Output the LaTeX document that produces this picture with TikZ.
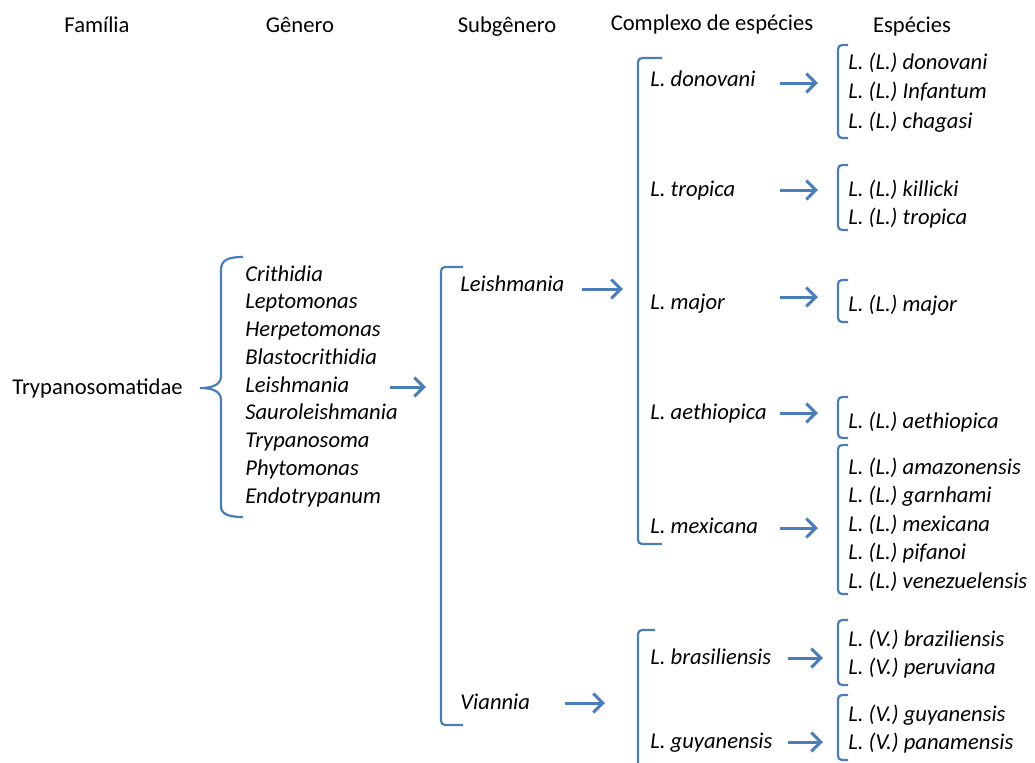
\documentclass[tikz,border=0pt]{standalone}
\usepackage{fontspec}
\setmainfont{Carlito}
\usetikzlibrary{arrows.meta}
\definecolor{linkblue}{RGB}{74,126,187}
\tikzset{
  hdr/.style={inner sep=0pt, text height=8pt, text depth=1.8pt},
  lbl/.style={anchor=west, inner sep=0pt, text height=8pt, text depth=1.8pt},
  ital/.style={lbl, font=\itshape},
  arw/.style={draw=linkblue, line width=1.5pt, -{Straight Barb[length=4.8pt,width=9.5pt]}},
  brk/.style={draw=linkblue, line width=1.1pt, rounded corners=2pt}
}
\begin{document}
\fontsize{11.3}{13.8}\selectfont
\begin{tikzpicture}[x=0.5pt,y=-0.5pt]
\useasboundingbox (0,0) rectangle (1035,762);
% column heads
\node[hdr] (hFam) at (97,26) {Família};
\node[hdr] (hGen) at (300,26) {Gênero};
\node[hdr] (hSub) at (507,26) {Subgênero};
\node[hdr] (hCpx) at (712,24) {Complexo de espécies};
\node[hdr] (hSpp) at (912,26) {Espécies};
% family
\node[lbl] (fam) at (12,388) {Trypanosomatidae};
\draw[linkblue, line width=1.1pt] (243,257) .. controls (228,257) and (221,260) .. (221,270)
  -- (221,376) .. controls (221,385) and (212,388) .. (200,388)
  .. controls (212,388) and (221,391) .. (221,400)
  -- (221,506) .. controls (221,514) and (228,517) .. (243,517);
% genera
\foreach \g [count=\i] in {Crithidia,Leptomonas,Herpetomonas,Blastocrithidia,Leishmania,Sauroleishmania,Trypanosoma,Phytomonas,Endotrypanum}
  \node[ital] (gen\i) at (245,{275+27.75*(\i-1)}) {\g};
\coordinate (aGen1) at (390,387);
\coordinate (aGen2) at (426,387);
\draw[arw] (aGen1) -- (aGen2);
% subgenera
\draw[brk] (463,267) -- (441,267) -- (441,725) -- (463,725);
\node[ital] (subL) at (460,285) {Leishmania};
\node[ital] (subV) at (460,703) {Viannia};
\coordinate (aSubL1) at (582,289);
\coordinate (aSubL2) at (623,289);
\draw[arw] (aSubL1) -- (aSubL2);
\coordinate (aSubV1) at (565,703);
\coordinate (aSubV2) at (605,703);
\draw[arw] (aSubV1) -- (aSubV2);
% species complexes
\draw[brk] (662,58) -- (638,58) -- (638,544) -- (662,544);
\draw[brk] (655,630) -- (638,630) -- (638,770);
\node[ital] (cDon) at (650,80) {L. donovani};
\node[ital] (cTro) at (650,190) {L. tropica};
\node[ital] (cMaj) at (650,303) {L. major};
\node[ital] (cAet) at (650,413) {L. aethiopica};
\node[ital] (cMex) at (650,527) {L. mexicana};
\node[ital] (cBra) at (650,658) {L. brasiliensis};
\node[ital] (cGuy) at (650,742) {L. guyanensis};
\coordinate (aDon1) at (780,83);  \coordinate (aDon2) at (818,83);
\coordinate (aTro1) at (780,190); \coordinate (aTro2) at (818,190);
\coordinate (aMaj1) at (780,297); \coordinate (aMaj2) at (818,297);
\coordinate (aAet1) at (780,413); \coordinate (aAet2) at (818,413);
\coordinate (aMex1) at (780,528); \coordinate (aMex2) at (818,528);
\coordinate (aBra1) at (788,658); \coordinate (aBra2) at (823,658);
\coordinate (aGuy1) at (788,742); \coordinate (aGuy2) at (823,742);
\draw[arw] (aDon1) -- (aDon2);
\draw[arw] (aTro1) -- (aTro2);
\draw[arw] (aMaj1) -- (aMaj2);
\draw[arw] (aAet1) -- (aAet2);
\draw[arw] (aMex1) -- (aMex2);
\draw[arw] (aBra1) -- (aBra2);
\draw[arw] (aGuy1) -- (aGuy2);
% species
\draw[brk] (848,45) -- (838,45) -- (838,138) -- (848,138);
\node[ital] (sDon1) at (848,63) {L. (L.) donovani};
\node[ital] (sDon2) at (848,92.5) {L. (L.) Infantum};
\node[ital] (sDon3) at (848,122) {L. (L.) chagasi};
\draw[brk] (848,165) -- (838,165) -- (838,230) -- (848,230);
\node[ital] (sTro1) at (848,190) {L. (L.) killicki};
\node[ital] (sTro2) at (848,218) {L. (L.) tropica};
\draw[brk] (848,280) -- (838,280) -- (838,322) -- (848,322);
\node[ital] (sMaj1) at (848,305) {L. (L.) major};
\draw[brk] (848,397) -- (838,397) -- (838,438) -- (848,438);
\node[ital] (sAet1) at (848,422) {L. (L.) aethiopica};
\draw[brk] (848,445) -- (838,445) -- (838,594) -- (848,594);
\node[ital] (sMex1) at (848,468) {L. (L.) amazonensis};
\node[ital] (sMex2) at (848,496) {L. (L.) garnhami};
\node[ital] (sMex3) at (848,525) {L. (L.) mexicana};
\node[ital] (sMex4) at (848,553) {L. (L.) pifanoi};
\node[ital] (sMex5) at (848,582) {L. (L.) venezuelensis};
\draw[brk] (848,620) -- (838,620) -- (838,685) -- (848,685);
\node[ital] (sBra1) at (848,640) {L. (V.) braziliensis};
\node[ital] (sBra2) at (848,668) {L. (V.) peruviana};
\draw[brk] (848,695) -- (838,695) -- (838,760) -- (848,760);
\node[ital] (sGuy1) at (848,715) {L. (V.) guyanensis};
\node[ital] (sGuy2) at (848,743) {L. (V.) panamensis};
\end{tikzpicture}
\end{document}
